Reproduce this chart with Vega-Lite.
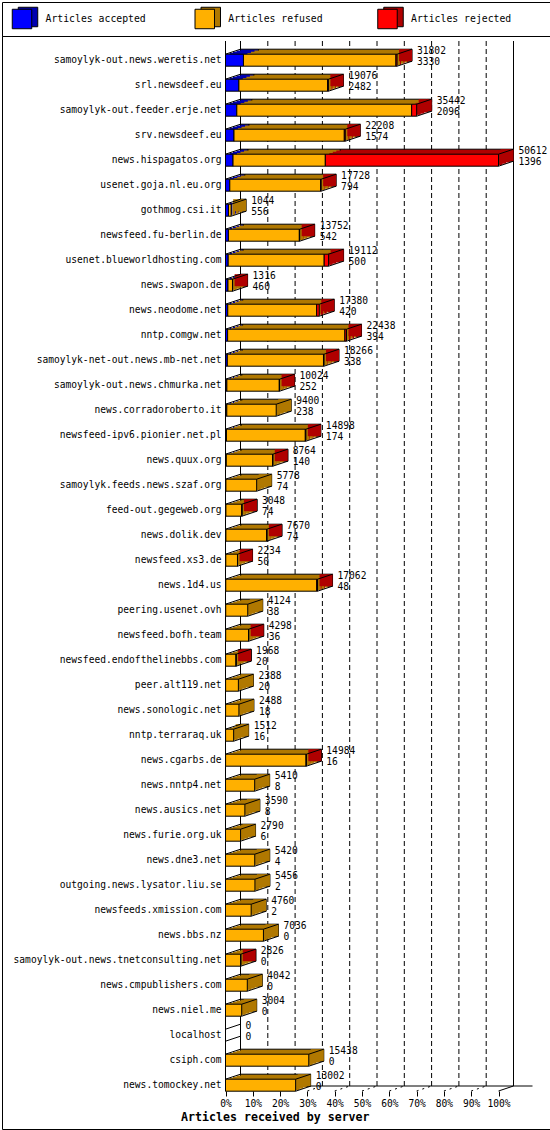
{
  "$schema": "https://vega.github.io/schema/vega-lite/v6.json",
  "description": "Articles received by server, innreport style 3D bars",
  "background": "white",
  "padding": {"left": 1, "top": 1, "right": 1, "bottom": 1},
  "spacing": 0,
  "bounds": "flush",
  "config": {
    "view": {"stroke": "black", "strokeWidth": 1},
    "font": "DejaVu Sans Mono",
    "text": {"font": "DejaVu Sans Mono", "fontSize": 9.6, "color": "black"},
    "axis": {"labelColor": "black", "labelFont": "DejaVu Sans Mono", "labelFontSize": 9.6, "titleColor": "black"}
  },
  "datasets": {
    "legend": [
      {"series": "Articles accepted"},
      {"series": "Articles refused"},
      {"series": "Articles rejected"}
    ],
    "pct": [
      {"p": 0}, {"p": 10}, {"p": 20}, {"p": 30}, {"p": 40}, {"p": 50},
      {"p": 60}, {"p": 70}, {"p": 80}, {"p": 90}, {"p": 100}
    ],
    "servers": [
      {"server": "samoylyk-out.news.weretis.net", "total": 31802, "accepted": 3330, "refused": 28272, "rejected": 200},
      {"server": "srl.newsdeef.eu", "total": 19076, "accepted": 2482, "refused": 16444, "rejected": 150},
      {"server": "samoylyk-out.feeder.erje.net", "total": 35442, "accepted": 2096, "refused": 32416, "rejected": 930},
      {"server": "srv.newsdeef.eu", "total": 22208, "accepted": 1574, "refused": 20454, "rejected": 180},
      {"server": "news.hispagatos.org", "total": 50612, "accepted": 1396, "refused": 17110, "rejected": 32106},
      {"server": "usenet.goja.nl.eu.org", "total": 17728, "accepted": 794, "refused": 16834, "rejected": 100},
      {"server": "gothmog.csi.it", "total": 1044, "accepted": 556, "refused": 488, "rejected": 0},
      {"server": "newsfeed.fu-berlin.de", "total": 13752, "accepted": 542, "refused": 13150, "rejected": 60},
      {"server": "usenet.blueworldhosting.com", "total": 19112, "accepted": 500, "refused": 17797, "rejected": 815},
      {"server": "news.swapon.de", "total": 1316, "accepted": 460, "refused": 836, "rejected": 20},
      {"server": "news.neodome.net", "total": 17380, "accepted": 420, "refused": 16480, "rejected": 480},
      {"server": "nntp.comgw.net", "total": 22438, "accepted": 394, "refused": 21744, "rejected": 300},
      {"server": "samoylyk-net-out.news.mb-net.net", "total": 18266, "accepted": 338, "refused": 17828, "rejected": 100},
      {"server": "samoylyk-out.news.chmurka.net", "total": 10024, "accepted": 252, "refused": 9722, "rejected": 50},
      {"server": "news.corradoroberto.it", "total": 9400, "accepted": 238, "refused": 9162, "rejected": 0},
      {"server": "newsfeed-ipv6.pionier.net.pl", "total": 14898, "accepted": 174, "refused": 14624, "rejected": 100},
      {"server": "news.quux.org", "total": 8764, "accepted": 140, "refused": 8604, "rejected": 20},
      {"server": "samoylyk.feeds.news.szaf.org", "total": 5778, "accepted": 74, "refused": 5704, "rejected": 0},
      {"server": "feed-out.gegeweb.org", "total": 3048, "accepted": 74, "refused": 2954, "rejected": 20},
      {"server": "news.dolik.dev", "total": 7670, "accepted": 74, "refused": 7566, "rejected": 30},
      {"server": "newsfeed.xs3.de", "total": 2234, "accepted": 50, "refused": 2174, "rejected": 10},
      {"server": "news.1d4.us", "total": 17062, "accepted": 48, "refused": 16864, "rejected": 150},
      {"server": "peering.usenet.ovh", "total": 4124, "accepted": 38, "refused": 4086, "rejected": 0},
      {"server": "newsfeed.bofh.team", "total": 4298, "accepted": 36, "refused": 4242, "rejected": 20},
      {"server": "newsfeed.endofthelinebbs.com", "total": 1968, "accepted": 20, "refused": 1938, "rejected": 10},
      {"server": "peer.alt119.net", "total": 2388, "accepted": 20, "refused": 2368, "rejected": 0},
      {"server": "news.sonologic.net", "total": 2488, "accepted": 18, "refused": 2470, "rejected": 0},
      {"server": "nntp.terraraq.uk", "total": 1512, "accepted": 16, "refused": 1496, "rejected": 0},
      {"server": "news.cgarbs.de", "total": 14984, "accepted": 16, "refused": 14928, "rejected": 40},
      {"server": "news.nntp4.net", "total": 5410, "accepted": 8, "refused": 5402, "rejected": 0},
      {"server": "news.ausics.net", "total": 3590, "accepted": 8, "refused": 3582, "rejected": 0},
      {"server": "news.furie.org.uk", "total": 2790, "accepted": 6, "refused": 2784, "rejected": 0},
      {"server": "news.dne3.net", "total": 5420, "accepted": 4, "refused": 5416, "rejected": 0},
      {"server": "outgoing.news.lysator.liu.se", "total": 5456, "accepted": 2, "refused": 5454, "rejected": 0},
      {"server": "newsfeeds.xmission.com", "total": 4760, "accepted": 2, "refused": 4758, "rejected": 0},
      {"server": "news.bbs.nz", "total": 7036, "accepted": 0, "refused": 7036, "rejected": 0},
      {"server": "samoylyk-out.news.tnetconsulting.net", "total": 2826, "accepted": 0, "refused": 2816, "rejected": 10},
      {"server": "news.cmpublishers.com", "total": 4042, "accepted": 0, "refused": 4042, "rejected": 0},
      {"server": "news.niel.me", "total": 3004, "accepted": 0, "refused": 3004, "rejected": 0},
      {"server": "localhost", "total": 0, "accepted": 0, "refused": 0, "rejected": 0},
      {"server": "csiph.com", "total": 15438, "accepted": 0, "refused": 15438, "rejected": 0},
      {"server": "news.tomockey.net", "total": 13002, "accepted": 0, "refused": 13002, "rejected": 0}
    ]
  },
  "resolve": {"scale": {"fill": "independent", "color": "independent", "x": "independent", "y": "independent"}},
  "vconcat": [
    {
      "width": 548,
      "height": 34,
      "data": {"name": "legend"},
      "encoding": {
        "x": {"field": "series", "type": "nominal", "sort": null, "scale": {"type": "point", "range": [20, 385.5], "padding": 0}, "axis": null}
      },
      "layer": [
        {
          "mark": {"type": "square", "size": 380, "xOffset": 6, "yOffset": -2, "stroke": "black", "strokeWidth": 1, "opacity": 1},
          "encoding": {
            "fill": {"field": "series", "type": "nominal", "scale": {"domain": ["Articles accepted", "Articles refused", "Articles rejected"], "range": ["#0000B0", "#B07800", "#B00000"]}, "legend": null}
          }
        },
        {
          "mark": {"type": "square", "size": 380, "stroke": "black", "strokeWidth": 1, "opacity": 1, "filled": true},
          "encoding": {
            "color": {"field": "series", "type": "nominal", "scale": {"domain": ["Articles accepted", "Articles refused", "Articles rejected"], "range": ["#0000FF", "#FFB000", "#FF0000"]}, "legend": null}
          }
        },
        {
          "mark": {"type": "text", "align": "left", "baseline": "middle", "dx": 23.5, "fontSize": 9.8},
          "encoding": {"text": {"field": "series"}}
        }
      ]
    },
    {
      "width": 548,
      "height": 1093,
      "resolve": {"scale": {"x": "independent", "y": "independent"}, "axis": {"x": "independent", "y": "independent"}},
      "layer": [
        {
          "data": {"name": "pct"},
          "layer": [
            {
              "transform": [{"filter": "datum.p == 0 || datum.p == 100"}],
              "mark": {"type": "rule", "xOffset": 15, "yOffset": -5, "color": "black", "strokeWidth": 1},
              "encoding": {
                "x": {
                  "field": "p", "type": "quantitative",
                  "scale": {"domain": [0, 100], "range": [223.5, 496.5], "nice": false},
                  "axis": {
                    "orient": "bottom", "offset": -38, "values": [0, 10, 20, 30, 40, 50, 60, 70, 80, 90, 100],
                    "labelExpr": "datum.value + '%'", "domain": false, "grid": false,
                    "ticks": true, "tickSize": 5, "tickColor": "black", "labelPadding": 2,
                    "labelFlush": false, "labelOverlap": false, "labelFontSize": 9.6,
                    "title": "Articles received by server", "titleFont": "DejaVu Sans Mono",
                    "titleFontSize": 11.6, "titleFontWeight": "bold", "titleAlign": "left",
                    "titleAnchor": "start", "titleX": 178.6, "titleY": 26.7, "titleBaseline": "middle"
                  }
                },
                "y": {"datum": 0, "type": "quantitative", "scale": {"domain": [0, 1], "range": [1055, 5]}, "axis": null},
                "y2": {"datum": 1}
              }
            },
            {
              "transform": [{"filter": "datum.p > 0 && datum.p < 100"}],
              "mark": {"type": "rule", "xOffset": 15, "yOffset": -5, "color": "black", "strokeWidth": 1, "strokeDash": [5, 3]},
              "encoding": {
                "x": {"field": "p", "type": "quantitative"},
                "y": {"datum": 0, "type": "quantitative"},
                "y2": {"datum": 1}
              }
            },
            {
              "transform": [{"filter": "datum.p == 0"}],
              "mark": {"type": "rule", "color": "black", "strokeWidth": 1},
              "encoding": {
                "x": {"field": "p", "type": "quantitative"},
                "y": {"datum": 0, "type": "quantitative"},
                "y2": {"datum": 1}
              }
            },
            {
              "transform": [{"filter": "datum.p == 0"}],
              "mark": {"type": "rule", "xOffset": 15, "x2Offset": 34, "yOffset": -5, "color": "black", "strokeWidth": 1},
              "encoding": {
                "x": {"field": "p", "type": "quantitative"},
                "x2": {"datum": 100},
                "y": {"datum": 0, "type": "quantitative"}
              }
            },
            {
              "transform": [{"filter": "datum.p == 0 || datum.p == 100"}],
              "mark": {"type": "rule", "x2Offset": 15, "y2Offset": -5, "color": "black", "strokeWidth": 1},
              "encoding": {
                "x": {"field": "p", "type": "quantitative"},
                "x2": {"field": "p"},
                "y": {"datum": 0, "type": "quantitative"},
                "y2": {"datum": 0}
              }
            },
            {
              "transform": [{"filter": "datum.p > 0 && datum.p < 100"}],
              "mark": {"type": "rule", "x2Offset": 15, "y2Offset": -5, "color": "black", "strokeWidth": 1, "strokeDash": [2, 4]},
              "encoding": {
                "x": {"field": "p", "type": "quantitative"},
                "x2": {"field": "p"},
                "y": {"datum": 0, "type": "quantitative"},
                "y2": {"datum": 0}
              }
            }
          ]
        },
        {
          "data": {"name": "servers"},
          "encoding": {
            "y": {
              "field": "server", "type": "nominal", "sort": null,
              "scale": {
                "domain": ["samoylyk-out.news.weretis.net", "srl.newsdeef.eu", "samoylyk-out.feeder.erje.net", "srv.newsdeef.eu", "news.hispagatos.org", "usenet.goja.nl.eu.org", "gothmog.csi.it", "newsfeed.fu-berlin.de", "usenet.blueworldhosting.com", "news.swapon.de", "news.neodome.net", "nntp.comgw.net", "samoylyk-net-out.news.mb-net.net", "samoylyk-out.news.chmurka.net", "news.corradoroberto.it", "newsfeed-ipv6.pionier.net.pl", "news.quux.org", "samoylyk.feeds.news.szaf.org", "feed-out.gegeweb.org", "news.dolik.dev", "newsfeed.xs3.de", "news.1d4.us", "peering.usenet.ovh", "newsfeed.bofh.team", "newsfeed.endofthelinebbs.com", "peer.alt119.net", "news.sonologic.net", "nntp.terraraq.uk", "news.cgarbs.de", "news.nntp4.net", "news.ausics.net", "news.furie.org.uk", "news.dne3.net", "outgoing.news.lysator.liu.se", "newsfeeds.xmission.com", "news.bbs.nz", "samoylyk-out.news.tnetconsulting.net", "news.cmpublishers.com", "news.niel.me", "localhost", "csiph.com", "news.tomockey.net"],
                "range": [11.7, 1061.7], "paddingInner": 0.52, "paddingOuter": 0.26
              },
              "axis": {"orient": "left", "offset": -223.5, "ticks": false, "domain": false, "labelPadding": 4.5, "labelLimit": 0, "title": null, "labelFontSize": 9.6}
            }
          },
          "layer": [
            {
              "transform": [
                {"fold": ["accepted", "refused", "rejected"], "as": ["series", "n"]},
                {"filter": "datum.n > 0"}
              ],
              "mark": {"type": "bar", "xOffset": 15, "x2Offset": 15, "yOffset": -5, "y2Offset": -5, "stroke": "black", "strokeWidth": 1},
              "encoding": {
                "x": {"field": "n", "type": "quantitative", "stack": "zero", "scale": {"domain": [0, 50612], "range": [223.5, 496.5], "nice": false}, "axis": null},
                "order": {"field": "series", "sort": "ascending"},
                "fill": {"field": "series", "type": "nominal", "scale": {"domain": ["accepted", "refused", "rejected"], "range": ["#0000B0", "#B07800", "#B00000"]}, "legend": null}
              }
            },
            {
              "transform": [
                {"fold": ["accepted", "refused", "rejected"], "as": ["series", "n"]},
                {"filter": "datum.n > 0"}
              ],
              "mark": {"type": "bar", "xOffset": 11, "x2Offset": 11, "yOffset": -3.7, "y2Offset": -3.7},
              "encoding": {
                "x": {"field": "n", "type": "quantitative", "stack": "zero"},
                "order": {"field": "series", "sort": "ascending"},
                "fill": {"field": "series", "type": "nominal", "legend": null}
              }
            },
            {
              "transform": [
                {"fold": ["accepted", "refused", "rejected"], "as": ["series", "n"]},
                {"filter": "datum.n > 0"}
              ],
              "mark": {"type": "bar", "xOffset": 7.5, "x2Offset": 7.5, "yOffset": -2.5, "y2Offset": -2.5},
              "encoding": {
                "x": {"field": "n", "type": "quantitative", "stack": "zero"},
                "order": {"field": "series", "sort": "ascending"},
                "fill": {"field": "series", "type": "nominal", "legend": null}
              }
            },
            {
              "transform": [
                {"fold": ["accepted", "refused", "rejected"], "as": ["series", "n"]},
                {"filter": "datum.n > 0"}
              ],
              "mark": {"type": "bar", "xOffset": 4, "x2Offset": 4, "yOffset": -1.3, "y2Offset": -1.3},
              "encoding": {
                "x": {"field": "n", "type": "quantitative", "stack": "zero"},
                "order": {"field": "series", "sort": "ascending"},
                "fill": {"field": "series", "type": "nominal", "legend": null}
              }
            },
            {
              "transform": [
                {"filter": "datum.total > 0"},
                {"calculate": "datum.rejected > 0 ? 'rejected' : (datum.refused > 0 ? 'refused' : 'accepted')", "as": "last"}
              ],
              "mark": {"type": "bar", "xOffset": 2, "x2Offset": 15, "yOffset": -5, "y2Offset": -5},
              "encoding": {
                "x": {"field": "total", "type": "quantitative"},
                "x2": {"field": "total"},
                "fill": {"field": "last", "type": "nominal", "legend": null}
              }
            },
            {
              "transform": [
                {"fold": ["accepted", "refused", "rejected"], "as": ["series", "n"]},
                {"filter": "datum.n > 0"}
              ],
              "mark": {"type": "bar", "stroke": "black", "strokeWidth": 1},
              "encoding": {
                "x": {"field": "n", "type": "quantitative", "stack": "zero"},
                "order": {"field": "series", "sort": "ascending"},
                "color": {"field": "series", "type": "nominal", "scale": {"domain": ["accepted", "refused", "rejected"], "range": ["#0000FF", "#FFB000", "#FF0000"]}, "legend": null}
              }
            },
            {
              "mark": {"type": "rule", "color": "black", "strokeWidth": 1, "x2Offset": 15, "yOffset": -6, "y2Offset": -11},
              "encoding": {
                "x": {"datum": 0, "type": "quantitative"},
                "x2": {"datum": 0},
                "y2": {"field": "server"}
              }
            },
            {
              "transform": [{"filter": "datum.total > 0"}],
              "mark": {"type": "rule", "color": "black", "strokeWidth": 1, "x2Offset": 15, "yOffset": -6, "y2Offset": -11},
              "encoding": {
                "x": {"field": "total", "type": "quantitative"},
                "x2": {"field": "total"},
                "y2": {"field": "server"}
              }
            },
            {
              "transform": [{"filter": "datum.total > 0"}],
              "mark": {"type": "rule", "color": "black", "strokeWidth": 1, "x2Offset": 15, "yOffset": 6, "y2Offset": 1},
              "encoding": {
                "x": {"field": "total", "type": "quantitative"},
                "x2": {"field": "total"},
                "y2": {"field": "server"}
              }
            },
            {
              "transform": [{"filter": "datum.total == 0"}],
              "mark": {"type": "rule", "color": "black", "strokeWidth": 1, "x2Offset": 15, "yOffset": 6, "y2Offset": 1},
              "encoding": {
                "x": {"datum": 0, "type": "quantitative"},
                "x2": {"datum": 0},
                "y2": {"field": "server"}
              }
            },
            {
              "mark": {"type": "text", "align": "left", "baseline": "middle", "dx": 20, "dy": -9, "fontSize": 9.6},
              "encoding": {
                "x": {"field": "total", "type": "quantitative"},
                "text": {"field": "total", "type": "quantitative", "format": "d"}
              }
            },
            {
              "mark": {"type": "text", "align": "left", "baseline": "middle", "dx": 20, "dy": 2, "fontSize": 9.6},
              "encoding": {
                "x": {"field": "total", "type": "quantitative"},
                "text": {"field": "accepted", "type": "quantitative", "format": "d"}
              }
            }
          ]
        }
      ]
    }
  ]
}
